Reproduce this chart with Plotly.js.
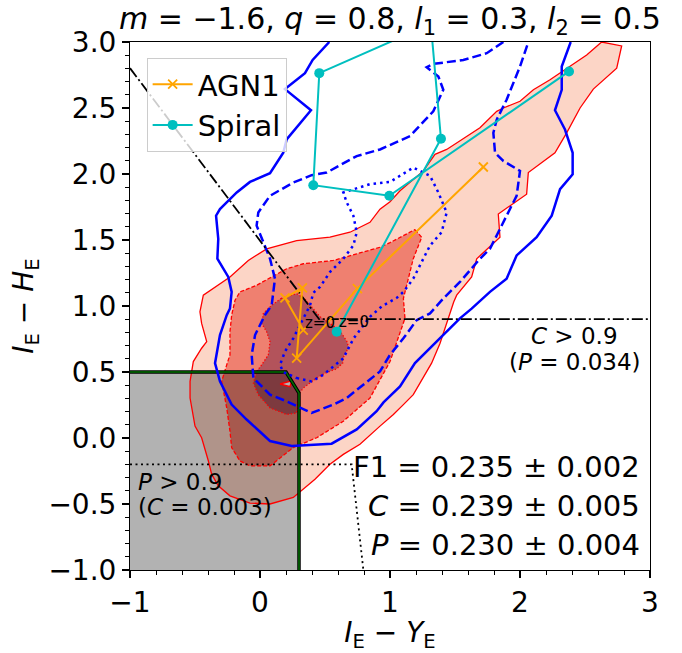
<!DOCTYPE html>
<html><head><meta charset="utf-8">
<script src="https://cdn.plot.ly/plotly-3.0.1.min.js"></script>
<style>body{margin:0;background:#fff}#c{width:682px;height:653px}</style>
</head><body><div id="c"></div>
<script>
// ---- tracks ----
const agnX = [0.333, 0.192, 0.326, 0.282, 0.749, 1.718];
const agnY = [0.818, 1.061, 1.137, 0.605, 1.132, 2.053];
const spX = [0.590, 1.392, 1.314, 0.456, 0.410, 0.995, 2.377];
const spY = [0.805, 2.267, 3.136, 2.764, 1.915, 1.835, 2.777];

// ---- red filled contours (light / medium / dark) ----
const r1X = [2.628,2.782,2.744,2.564,2.462,2.359,2.269,2.064,2.051,1.833,1.846,1.667,1.628,1.513,1.49,1.449,1.410,1.385,1.320,1.256,1.179,1.103,1.026,0.923,0.769,0.641,0.538,0.423,0.256,0.077,-0.077,-0.231,-0.321,-0.372,-0.397,-0.449,-0.500,-0.538,-0.538,-0.513,-0.449,-0.410,-0.449,-0.462,-0.436,-0.436,-0.231,-0.090,0.051,0.282,0.538,0.692,0.846,0.923,1.0,1.077,1.256,1.346,1.436,1.590,1.692,1.821,1.872,2.0,2.103,2.231,2.359,2.513,2.628];
const r1Y = [3.0,2.970,2.802,2.643,2.500,2.312,2.161,2.011,1.847,1.697,1.521,1.358,1.220,1.082,1.03,0.906,0.780,0.718,0.567,0.454,0.328,0.253,0.178,0.090,-0.048,-0.124,-0.199,-0.312,-0.450,-0.500,-0.493,-0.438,-0.362,-0.274,-0.174,0.002,0.090,0.303,0.429,0.579,0.680,0.730,0.868,0.956,1.06,1.082,1.220,1.345,1.433,1.496,1.521,1.559,1.634,1.734,1.79,1.873,2.023,2.149,2.186,2.287,2.350,2.475,2.500,2.551,2.638,2.714,2.802,2.902,3.0];
const r2X = [1.192,1.244,1.179,1.141,1.103,1.115,1.051,1.0,0.923,0.846,0.641,0.436,0.256,0.128,0.077,-0.077,-0.154,-0.218,-0.231,-0.256,-0.295,-0.256,-0.231,-0.231,-0.218,-0.192,-0.154,-0.026,0.205,0.333,0.564,0.744,0.872,0.923,1.0,1.192];
const r2Y = [1.579,1.521,1.358,1.207,1.057,0.906,0.730,0.579,0.441,0.303,0.127,0.002,-0.073,-0.174,-0.211,-0.211,-0.174,-0.073,0.052,0.228,0.429,0.554,0.630,0.805,0.931,1.044,1.107,1.157,1.282,1.320,1.345,1.395,1.433,1.445,1.48,1.579];
const r3X = [0.162,0.282,0.346,0.397,0.462,0.564,0.628,0.672,0.680,0.646,0.636,0.590,0.500,0.436,0.333,0.295,0.282,0.205,0.077,-0.013,-0.051,-0.026,0.013,0.064,0.077,0.051,0.013,0.026,0.090,0.162];
const r3Y = [1.057,1.094,1.051,0.994,0.918,0.851,0.793,0.725,0.680,0.625,0.567,0.524,0.491,0.454,0.379,0.328,0.190,0.178,0.228,0.328,0.416,0.504,0.554,0.630,0.730,0.805,0.868,0.944,1.006,1.057];
const r4X = [0.154,0.244,0.231,0.154];
const r4Y = [0.409,0.434,0.389,0.409];

// ---- blue contour lines (solid / dashed / dotted) ----
const b1X = [0.533,0.405,0.346,0.192,0.392,0.205,0.179,0.077,-0.077,-0.179,-0.308,-0.338,-0.321,-0.328,-0.244,-0.218,-0.231,-0.256,-0.308,-0.346,-0.308,-0.218,-0.103,0.077,0.244,0.551,0.744,0.897,0.95,1.077,1.192,1.410,1.538,1.628,1.769,1.897,1.974,2.128,2.244,2.308,2.405,2.405,2.346,2.269,2.321,2.321,2.390];
const b1Y = [3.0,2.864,2.764,2.643,2.483,2.262,2.161,2.006,1.940,1.860,1.734,1.684,1.508,1.358,1.220,1.107,0.981,0.931,0.780,0.567,0.429,0.253,0.140,-0.023,-0.061,-0.043,0.065,0.203,0.27,0.391,0.567,0.780,0.906,0.98,1.107,1.207,1.383,1.521,1.684,1.885,1.998,2.161,2.337,2.483,2.638,2.814,3.0];
const b2X = [1.872,1.744,1.564,1.333,1.282,1.372,1.410,1.333,1.154,0.923,0.744,0.513,0.397,0.256,0.077,-0.013,-0.026,0.026,0.077,0.115,0.090,0.038,-0.038,-0.064,-0.051,0.0,0.077,0.205,0.308,0.397,0.564,0.667,0.795,0.923,1.0,1.103,1.205,1.308,1.410,1.538,1.692,1.769,1.846,1.923,1.974,2.0,1.872,1.808,1.795,1.821,1.897,2.0,2.064];
const b2Y = [3.0,2.915,2.864,2.834,2.809,2.739,2.638,2.475,2.287,2.186,2.136,2.011,1.991,1.935,1.835,1.709,1.609,1.483,1.358,1.207,1.006,0.931,0.780,0.630,0.454,0.404,0.328,0.278,0.228,0.190,0.253,0.303,0.404,0.504,0.630,0.755,0.893,0.944,1.057,1.182,1.358,1.433,1.584,1.734,1.835,2.023,2.099,2.161,2.312,2.412,2.563,2.814,3.0];
const b3X = [0.282,0.397,0.487,0.641,0.72,0.846,0.94,1.05,1.103,1.179,1.256,1.308,1.397,1.436,1.372,1.308,1.179,1.0,0.846,0.641,0.667,0.718,0.744,0.718,0.641,0.538,0.462,0.410,0.385,0.308,0.256,0.192,0.154,0.179,0.282];
const b3Y = [0.454,0.429,0.479,0.604,0.755,0.918,1.0,1.06,1.107,1.207,1.358,1.458,1.559,1.709,1.860,1.986,2.048,1.940,1.923,1.860,1.785,1.684,1.559,1.458,1.358,1.257,1.144,1.100,1.006,0.856,0.755,0.655,0.554,0.500,0.454];

// ---- selection boundaries ----
const boxX = [-1, -1, 0.2, 0.3, 0.3];
const boxY = [-1, 0.5, 0.5, 0.34, -1];
const cutCX = [-1, 0.455, 3];
const cutCY = [2.802, 0.9, 0.9];
const cutPX = [-1, 0.705, 0.795];
const cutPY = [-0.2, -0.2, -1];

const RED='#ff0000', BLUE='#0000ff';
function fillTr(x,y,c){return {x:x,y:y,mode:'lines',fill:'toself',fillcolor:c,line:{width:0,color:c},showlegend:false,hoverinfo:'skip'};}
function lineTr(x,y,c,w,d){return {x:x,y:y,mode:'lines',line:{color:c,width:w,dash:d},showlegend:false,hoverinfo:'skip'};}

const traces = [
  fillTr(r1X,r1Y,'#fcd5c6'),
  fillTr(r2X,r2Y,'#ef8070'),
  fillTr(r3X,r3Y,'#b3535b'),
  fillTr(r4X,r4Y,'#ffffff'),
  {x:boxX.concat([boxX[0]]),y:boxY.concat([boxY[0]]),mode:'lines',fill:'toself',fillcolor:'rgba(0,0,0,0.3)',line:{width:0},showlegend:false,hoverinfo:'skip'},
  lineTr(r1X,r1Y,RED,1.3,'solid'),
  lineTr(r2X,r2Y,RED,1.3,'4px,2px'),
  lineTr(r3X,r3Y,RED,1.3,'1.3px,2px'),
  lineTr(r4X,r4Y,RED,1.5,'solid'),
  lineTr(boxX.slice(1),boxY.slice(1),'#000000',3.5,'solid'),
  lineTr(boxX.slice(1),boxY.slice(1),'#007000',1.5,'solid'),
  lineTr(b1X,b1Y,BLUE,2.5,'solid'),
  lineTr(b2X,b2Y,BLUE,2.5,'9px,4px'),
  lineTr(b3X,b3Y,BLUE,2.5,'2.5px,4px'),
  lineTr(cutCX,cutCY,'#000000',1.8,'11px,3px,2px,3px'),
  lineTr(cutPX,cutPY,'#000000',1.8,'2px,3.5px'),
  {x:agnX,y:agnY,name:'AGN1',mode:'lines+markers',line:{color:'#ffa500',width:2},marker:{symbol:'x-thin',size:9,line:{color:'#ffa500',width:1.8},color:'#ffa500'}},
  {x:spX,y:spY,name:'Spiral',mode:'lines+markers',line:{color:'#00bfbf',width:2},marker:{symbol:'circle',size:10,color:'#00bfbf'}}
];

const F='DejaVu Sans';
function ann(x,y,t,size,xa,ya){return {x:x,y:y,xref:'x',yref:'y',text:t,showarrow:false,xanchor:xa,yanchor:ya||'middle',font:{family:F,size:size,color:'#000'}};}
const annotations = [
  ann(agnX[0],agnY[0]-0.03,'z=0',15,'left','bottom'),
  ann(spX[0],spY[0]-0.01,'z=0',15,'left','bottom'),
  ann(2.42,0.775,'<i>C</i> > 0.9',23,'center'),
  ann(2.42,0.577,'(<i>P</i> = 0.034)',23,'center'),
  ann(-0.955,-0.330,'<i>P</i> > 0.9',23,'left'),
  ann(-0.955,-0.525,'(<i>C</i> = 0.003)',23,'left'),
  ann(2.94,-0.222,'F1 = 0.235 ± 0.002',29,'right'),
  ann(2.94,-0.515,'<i>C</i> = 0.239 ± 0.005',29,'right'),
  ann(2.94,-0.807,'<i>P</i> = 0.230 ± 0.004',29,'right')
];

const axBase = {showgrid:false,zeroline:false,showline:true,mirror:true,linecolor:'#000',linewidth:1,
  ticks:'outside',ticklen:7,tickwidth:1.3,tickcolor:'#000',tickfont:{family:F,size:28,color:'#000'}};
const layout = {
  width:682,height:653,margin:{l:130,r:32,t:42,b:80},
  paper_bgcolor:'#fff',plot_bgcolor:'#fff',
  font:{family:F,color:'#000'},
  title:{text:'<i>m</i> = −1.6, <i>q</i> = 0.8, <i>l</i><sub>1</sub> = 0.3, <i>l</i><sub>2</sub> = 0.5',font:{family:F,size:30,color:'#000'},x:0.5716,xanchor:'center',y:0.972,yanchor:'middle'},
  xaxis:Object.assign({},axBase,{range:[-1,3],tickvals:[-1,0,1,2,3],ticktext:['−1','0','1','2','3'],
    minor:{tick0:-1,dtick:0.2,ticks:'outside',ticklen:4,tickwidth:1,tickcolor:'#000'},
    automargin:true,
    title:{text:'<i>I</i><sub>E</sub> − <i>Y</i><sub>E</sub>',font:{family:F,size:28,color:'#000'},standoff:3}}),
  yaxis:Object.assign({},axBase,{range:[-1,3],dtick:0.5,tick0:0,tickformat:'.1f',
    minor:{tick0:0,dtick:0.1,ticks:'outside',ticklen:4,tickwidth:1,tickcolor:'#000'},
    title:{text:'<i>I</i><sub>E</sub> − <i>H</i><sub>E</sub>',font:{family:F,size:28,color:'#000'},standoff:6}}),
  legend:{x:0.032,y:0.97,xanchor:'left',yanchor:'top',bgcolor:'rgba(255,255,255,0.8)',bordercolor:'#cccccc',borderwidth:1,
    font:{family:F,size:29,color:'#000'},itemwidth:40,tracegroupgap:0},
  annotations:annotations,
  showlegend:true
};
Plotly.newPlot('c',traces,layout,{displayModeBar:false,staticPlot:true});
</script></body></html>
